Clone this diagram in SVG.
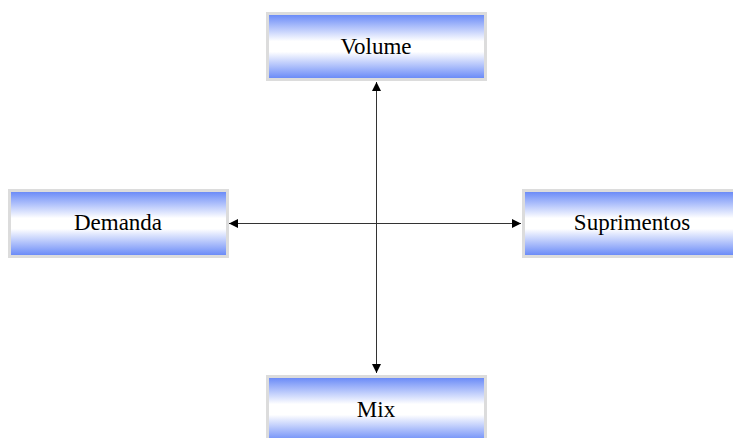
<svg xmlns="http://www.w3.org/2000/svg" width="733" height="438" viewBox="0 0 733 438">
  <defs>
    <linearGradient id="boxFill" x1="0" y1="0" x2="0" y2="1">
      <stop offset="0" stop-color="#6385f7"/>
      <stop offset="0.42" stop-color="#ffffff"/>
      <stop offset="0.58" stop-color="#ffffff"/>
      <stop offset="1" stop-color="#6385f7"/>
    </linearGradient>
    <marker id="arrow" viewBox="0 0 10 10" refX="10" refY="5" markerWidth="9" markerHeight="9" markerUnits="userSpaceOnUse" orient="auto-start-reverse">
      <path d="M0,0 L10,5 L0,10 z" fill="#000"/>
    </marker>
  </defs>
  <style>
    .box { fill: url(#boxFill); stroke: #dcdcdc; stroke-width: 3; }
    .label { font-family: "Liberation Serif", "Times New Roman", "DejaVu Serif", serif; font-size: 23px; fill: #000; text-anchor: middle; }
    .conn { stroke: #333; stroke-width: 1; fill: none; }
  </style>
  <rect width="733" height="438" fill="#fff"/>

  <g id="connectors">
    <line class="conn" x1="376.5" y1="82" x2="376.5" y2="373" marker-start="url(#arrow)" marker-end="url(#arrow)"/>
    <line class="conn" x1="229" y1="223.5" x2="521" y2="223.5" marker-start="url(#arrow)" marker-end="url(#arrow)"/>
  </g>

  <g id="volume">
    <rect class="box" x="267.5" y="13.5" width="218" height="66"/>
    <text class="label" x="376" y="54">Volume</text>
  </g>
  <g id="demanda">
    <rect class="box" x="9.5" y="190.5" width="218" height="66"/>
    <text class="label" x="118" y="230">Demanda</text>
  </g>
  <g id="suprimentos">
    <rect class="box" x="523.5" y="190.5" width="218" height="66"/>
    <text class="label" x="632" y="230">Suprimentos</text>
  </g>
  <g id="mix">
    <rect class="box" x="267.5" y="376.5" width="218" height="66"/>
    <text class="label" x="376" y="417">Mix</text>
  </g>
</svg>
